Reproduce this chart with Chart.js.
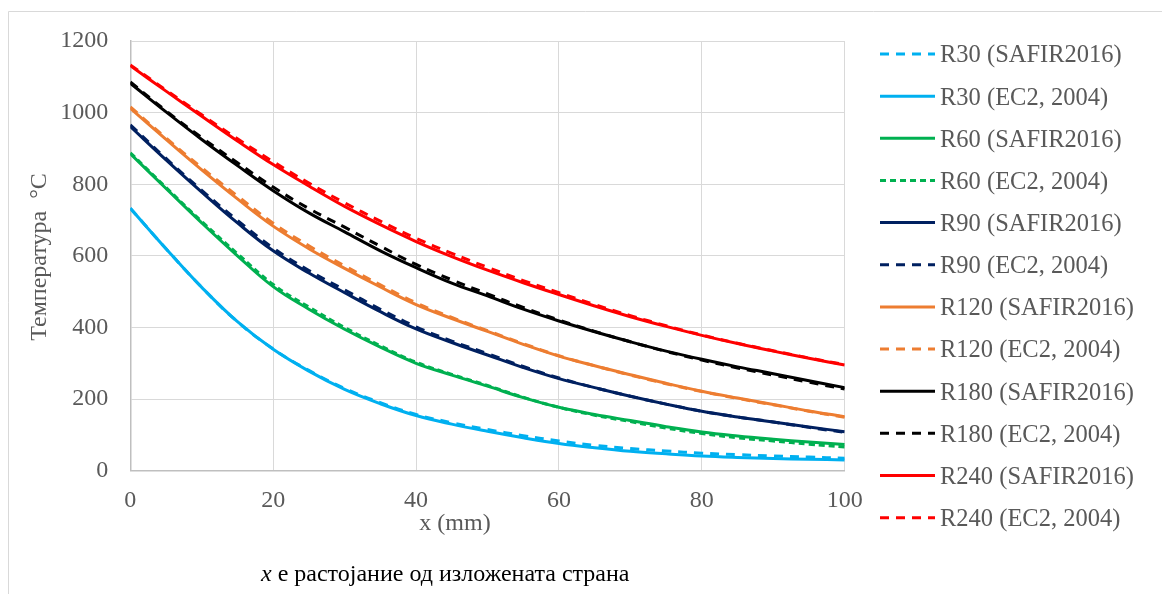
<!DOCTYPE html>
<html>
<head>
<meta charset="utf-8">
<script src="https://cdn.jsdelivr.net/npm/chart.js@4.4.1/dist/chart.umd.min.js"></script>
<style>
  html, body { margin: 0; padding: 0; background: #ffffff; }
  #wrap { position: relative; width: 1162px; height: 594px; }
  canvas { display: block; }
</style>
</head>
<body>
<div id="wrap"><canvas id="chart" width="1162" height="594"></canvas></div>
<script>
// Distance from the exposed face, mm
const xMm = [0, 5, 10, 15, 20, 25, 30, 35, 40, 45, 50, 55, 60, 65, 70, 75, 80, 85, 90, 95, 100];

// Temperatures, °C
const r30Safir  = [733, 620, 512, 416, 340, 280, 230, 190, 157, 134, 115, 98, 83, 71, 62, 55, 49, 45, 41, 38, 35];
const r30Ec2    = [733, 620, 512, 416, 339, 278, 227, 187, 154, 130, 110, 92, 76, 64, 54, 47, 41, 37, 34, 32, 30];
const r60Safir  = [885, 788, 692, 600, 514, 451, 395, 345, 300, 267, 236, 204, 177, 157, 140, 123, 108, 97, 88, 80, 73];
const r60Ec2    = [888, 791, 696, 606, 520, 457, 400, 349, 303, 269, 238, 205, 177, 155, 137, 119, 104, 92, 83, 74, 66];
const r90Safir  = [961, 868, 778, 692, 614, 552, 497, 444, 396, 358, 323, 288, 257, 232, 208, 186, 166, 150, 136, 122, 109];
const r90Ec2    = [966, 872, 783, 699, 622, 559, 505, 451, 402, 362, 327, 291, 259, 232, 208, 186, 166, 150, 136, 121, 107];
const r120Safir = [1012, 925, 840, 759, 683, 620, 565, 513, 464, 425, 389, 353, 320, 293, 268, 244, 222, 203, 185, 167, 151];
const r120Ec2   = [1016, 929, 846, 767, 691, 628, 572, 519, 469, 428, 391, 355, 321, 293, 267, 243, 221, 202, 184, 166, 149];
const r180Safir = [1082, 1002, 925, 852, 782, 720, 667, 614, 567, 524, 488, 451, 418, 388, 360, 334, 311, 290, 271, 251, 232];
const r180Ec2   = [1086, 1005, 930, 860, 792, 732, 680, 627, 576, 533, 494, 456, 421, 389, 360, 333, 309, 287, 267, 247, 228];
const r240Safir = [1131, 1060, 990, 921, 855, 795, 738, 687, 640, 598, 560, 525, 492, 460, 430, 403, 378, 355, 334, 314, 295];
const r240Ec2   = [1133, 1063, 994, 927, 863, 803, 748, 697, 649, 607, 568, 531, 497, 464, 433, 405, 379, 356, 335, 315, 296];

const seriesNames = [
  'R30 (SAFIR2016)', 'R30 (EC2, 2004)',
  'R60 (SAFIR2016)', 'R60 (EC2, 2004)',
  'R90 (SAFIR2016)', 'R90 (EC2, 2004)',
  'R120 (SAFIR2016)', 'R120 (EC2, 2004)',
  'R180 (SAFIR2016)', 'R180 (EC2, 2004)',
  'R240 (SAFIR2016)', 'R240 (EC2, 2004)'
];
const seriesValues = [r30Safir, r30Ec2, r60Safir, r60Ec2, r90Safir, r90Ec2,
                      r120Safir, r120Ec2, r180Safir, r180Ec2, r240Safir, r240Ec2];

const yTicks = [0, 200, 400, 600, 800, 1000, 1200];
const xTicks = [0, 20, 40, 60, 80, 100];

const xTitle = 'x (mm)';
const yTitle = 'Температура  °C';
const captionItalic = 'x';
const captionRest = ' е растојание од изложената страна';

const colors = ['#00b0f0', '#00b0f0', '#00b050', '#00b050', '#002060', '#002060',
                '#ed7d31', '#ed7d31', '#000000', '#000000', '#ff0000', '#ff0000'];
const dashes = [[9, 7], [], [], [6, 4], [], [9, 7], [], [9, 7], [], [9, 7], [], [9, 7]];

const SERIF = '"Liberation Serif", "Times New Roman", serif';
const GREY_TEXT = '#595959';

const datasets = seriesValues.map((vals, i) => ({
  label: seriesNames[i],
  data: xMm.map((x, k) => ({ x: x, y: vals[k] })),
  borderColor: colors[i],
  backgroundColor: colors[i],
  borderWidth: 3,
  borderDash: dashes[i],
  pointRadius: 0,
  pointHoverRadius: 0,
  fill: false,
  tension: 0.4,
  order: seriesValues.length - i
}));

// Frame, axis titles, caption and legend
const decorations = {
  id: 'decorations',
  beforeDraw(chart) {
    const ctx = chart.ctx;
    ctx.save();
    ctx.fillStyle = '#ffffff';
    ctx.fillRect(0, 0, chart.width, chart.height);
    ctx.strokeStyle = '#d9d9d9';
    ctx.lineWidth = 1;
    ctx.beginPath();
    ctx.moveTo(8.5, chart.height);
    ctx.lineTo(8.5, 11.5);
    ctx.lineTo(chart.width, 11.5);
    ctx.stroke();
    ctx.restore();
  },
  afterDraw(chart) {
    const ctx = chart.ctx;
    ctx.save();
    // y title
    ctx.fillStyle = GREY_TEXT;
    ctx.font = '24px ' + SERIF;
    ctx.textAlign = 'center';
    ctx.textBaseline = 'middle';
    ctx.translate(40, 257);
    ctx.rotate(-Math.PI / 2);
    ctx.fillText(yTitle, 0, 0);
    ctx.restore();

    ctx.save();
    ctx.fillStyle = GREY_TEXT;
    ctx.font = '24px ' + SERIF;
    ctx.textAlign = 'center';
    ctx.textBaseline = 'middle';
    ctx.fillText(xTitle, 455, 524);

    // caption
    ctx.fillStyle = '#000000';
    ctx.textAlign = 'left';
    ctx.font = 'italic 24px ' + SERIF;
    const startX = 261;
    ctx.fillText(captionItalic, startX, 575);
    const w = ctx.measureText(captionItalic).width;
    ctx.font = '24px ' + SERIF;
    ctx.fillText(captionRest, startX + w, 575);

    // legend
    chart.data.datasets.forEach((ds, i) => {
      const cy = 55 + 42.15 * i;
      ctx.strokeStyle = ds.borderColor;
      ctx.lineWidth = 3;
      ctx.setLineDash(ds.borderDash || []);
      ctx.beginPath();
      ctx.moveTo(880, cy - 1);
      ctx.lineTo(935, cy - 1);
      ctx.stroke();
      ctx.setLineDash([]);
      ctx.fillStyle = GREY_TEXT;
      ctx.font = '24.5px ' + SERIF;
      ctx.textAlign = 'left';
      ctx.textBaseline = 'middle';
      ctx.fillText(ds.label, 940, cy + 1);
    });
    ctx.restore();
  }
};

new Chart(document.getElementById('chart'), {
  type: 'line',
  data: { datasets: datasets },
  options: {
    responsive: false,
    animation: false,
    events: [],
    layout: { padding: { left: 0, top: 41, right: 317.3, bottom: 0 } },
    plugins: { legend: { display: false }, tooltip: { enabled: false } },
    scales: {
      x: {
        type: 'linear',
        min: 0, max: 100,
        afterFit(scale) { scale.height = 123.3; },
        afterBuildTicks(scale) { scale.ticks = xTicks.map(v => ({ value: v })); },
        grid: { color: '#d9d9d9', lineWidth: 1, drawTicks: false },
        border: { color: '#bfbfbf', width: 1.5 },
        ticks: { color: GREY_TEXT, font: { family: SERIF, size: 24 }, padding: 16, maxRotation: 0,
                 callback: v => String(v) }
      },
      y: {
        type: 'linear',
        min: 0, max: 1200,
        afterFit(scale) { scale.width = 130.3; },
        afterBuildTicks(scale) { scale.ticks = yTicks.map(v => ({ value: v })); },
        grid: { color: '#d9d9d9', lineWidth: 1, drawTicks: false },
        border: { color: '#bfbfbf', width: 1.5 },
        ticks: { color: GREY_TEXT, font: { family: SERIF, size: 24 }, padding: 22,
                 callback: v => String(v) }
      }
    }
  },
  plugins: [decorations]
});
</script>
</body>
</html>
